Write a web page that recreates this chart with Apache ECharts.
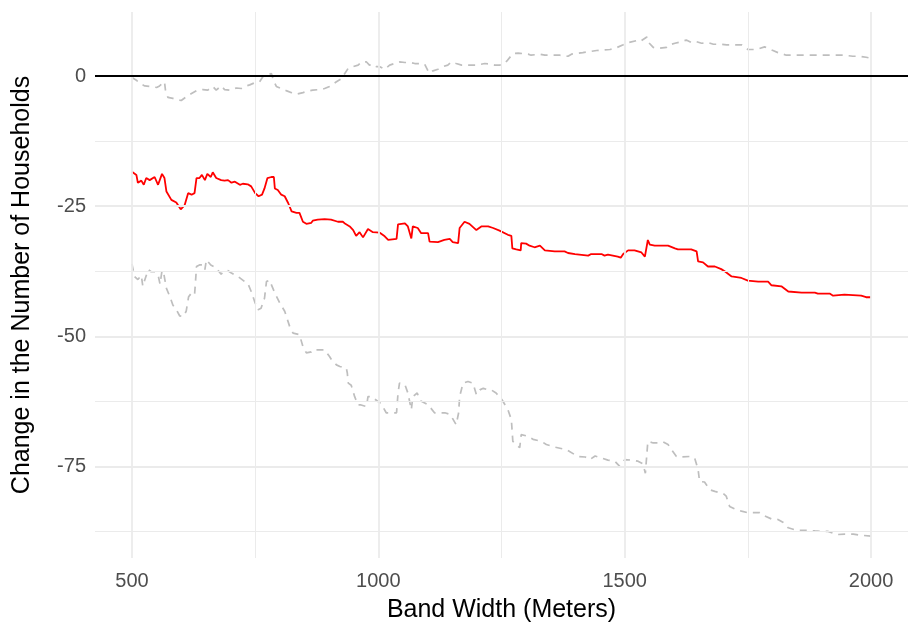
<!DOCTYPE html>
<html>
<head>
<meta charset="utf-8">
<title>Change in the Number of Households by Band Width</title>
<script src="https://cdn.jsdelivr.net/npm/echarts@6/dist/echarts.min.js"></script>
<style>
  html, body { margin: 0; padding: 0; background: #ffffff; }
  #chart { width: 910px; height: 629px; }
</style>
</head>
<body>
<div id="chart"></div>
<script>
// Point estimate of the change in households, by band width (meters)
const estimate = [
  [500,-18.4],[509,-19.0],[512,-20.5],[519,-20.1],[524,-20.9],[529,-19.6],[536,-20.0],[546,-19.4],[553,-20.9],[561,-18.8],
  [566,-19.6],[570,-22.2],[580,-23.8],[590,-24.3],[599,-25.6],[607,-24.8],[614,-22.5],[621,-22.8],[627,-22.5],[631,-19.6],
  [637,-19.6],[642,-19.0],[648,-20.0],[653,-18.8],[660,-19.4],[664,-18.5],[671,-19.6],[681,-20.0],[688,-20.1],[695,-20.0],
  [702,-20.5],[709,-20.3],[719,-20.9],[725,-20.7],[735,-20.8],[742,-21.2],[750,-22.5],[757,-23.1],[764,-22.8],[769,-21.6],
  [775,-19.6],[783,-19.4],[788,-19.4],[790,-21.6],[796,-21.9],[803,-22.8],[810,-23.1],[817,-24.4],[824,-26.0],[834,-26.3],
  [840,-26.3],[847,-28.0],[854,-28.4],[864,-28.2],[867,-27.8],[877,-27.6],[891,-27.5],[904,-27.6],[918,-28.0],[928,-28.0],
  [933,-28.4],[942,-28.9],[949,-29.6],[955,-30.7],[962,-30.0],[969,-31.0],[979,-29.4],[989,-30.0],[1003,-30.1],[1013,-30.8],
  [1020,-31.5],[1037,-31.3],[1040,-28.5],[1054,-28.3],[1060,-28.9],[1067,-31.2],[1070,-28.9],[1080,-29.2],[1087,-30.2],[1101,-30.2],
  [1104,-31.8],[1121,-31.9],[1134,-31.5],[1145,-31.3],[1151,-31.9],[1162,-32.1],[1165,-29.2],[1175,-28.0],[1185,-28.4],[1199,-29.6],
  [1209,-28.9],[1223,-28.9],[1233,-29.2],[1236,-29.0],[1246,-29.7],[1250,-29.9],[1263,-30.5],[1270,-30.7],[1272,-33.1],[1280,-33.3],
  [1289,-33.5],[1290,-32.1],[1300,-32.2],[1307,-32.6],[1317,-32.9],[1328,-32.6],[1338,-33.5],[1358,-33.7],[1378,-33.7],[1385,-34.0],
  [1399,-34.2],[1426,-34.5],[1432,-34.2],[1453,-34.2],[1459,-34.5],[1466,-34.3],[1486,-34.7],[1492,-34.9],[1497,-34.2],[1507,-33.5],
  [1520,-33.5],[1534,-33.9],[1541,-34.7],[1544,-34.7],[1547,-31.5],[1551,-32.4],[1561,-32.6],[1574,-32.6],[1588,-32.6],[1602,-33.1],
  [1608,-33.3],[1618,-33.3],[1635,-33.3],[1646,-33.7],[1649,-35.6],[1659,-35.8],[1669,-36.6],[1683,-36.6],[1696,-37.1],[1703,-37.5],
  [1717,-38.5],[1737,-38.8],[1750,-39.3],[1771,-39.5],[1791,-39.5],[1798,-40.2],[1818,-40.4],[1832,-41.4],[1859,-41.6],[1886,-41.6],
  [1892,-41.8],[1916,-41.8],[1923,-42.2],[1946,-42.0],[1980,-42.2],[1990,-42.5],[2000,-42.5]
];

// Upper confidence bound
const upperBound = [
  [500,-0.3],[509,-0.8],[515,-1.4],[526,-1.9],[536,-2.0],[550,-2.2],[556,-1.9],[566,-1.1],[568,-2.7],[573,-4.1],
  [583,-4.3],[593,-4.6],[600,-4.7],[610,-4.0],[620,-3.4],[631,-2.8],[644,-2.6],[654,-2.7],[664,-2.0],[671,-2.7],
  [681,-1.9],[688,-2.6],[698,-2.7],[712,-2.3],[722,-2.4],[732,-1.9],[739,-1.7],[749,-1.3],[759,-1.1],[766,-0.1],
  [776,0.2],[783,0.5],[787,-0.8],[793,-2.0],[803,-2.4],[813,-2.8],[824,-3.2],[834,-3.5],[847,-3.2],[857,-2.9],
  [867,-2.7],[881,-2.6],[891,-2.4],[901,-2.0],[915,-1.1],[925,-0.5],[932,0.5],[939,1.5],[949,1.8],[959,2.1],
  [966,2.7],[976,2.7],[982,2.1],[989,2.3],[996,1.8],[1003,1.8],[1013,1.3],[1023,2.1],[1033,2.4],[1043,2.7],
  [1054,2.6],[1064,2.6],[1074,2.4],[1084,2.4],[1094,2.3],[1103,0.6],[1111,1.0],[1121,1.3],[1131,1.8],[1141,2.1],
  [1148,2.7],[1158,2.4],[1169,2.1],[1182,2.1],[1199,2.1],[1216,2.4],[1226,2.3],[1236,2.1],[1246,2.1],[1256,2.4],
  [1261,2.9],[1273,4.3],[1284,4.4],[1304,4.2],[1310,4.0],[1328,4.2],[1338,4.0],[1355,4.0],[1368,4.0],[1385,3.8],
  [1392,4.2],[1415,4.5],[1443,4.9],[1470,5.1],[1480,5.3],[1497,6.0],[1503,6.3],[1524,6.8],[1531,6.6],[1545,7.5],
  [1547,6.6],[1558,5.5],[1568,5.3],[1585,5.5],[1591,6.0],[1602,6.3],[1615,6.6],[1625,6.9],[1636,6.4],[1646,6.6],
  [1656,6.3],[1670,6.4],[1680,6.1],[1693,6.1],[1707,6.0],[1727,6.0],[1737,6.0],[1750,5.1],[1767,5.1],[1784,5.6],
  [1791,5.3],[1801,4.9],[1811,4.5],[1828,4.0],[1849,4.0],[1869,4.0],[1890,4.0],[1910,4.0],[1930,4.0],[1944,4.0],
  [1963,3.8],[1977,3.8],[1990,3.6],[2000,3.4]
];

// Lower confidence bound
const lowerBound = [
  [500,-36.1],[505,-38.5],[512,-39.1],[519,-38.3],[522,-40.4],[527,-38.9],[533,-37.2],[539,-37.6],[546,-37.6],[553,-38.2],
  [557,-40.0],[561,-37.4],[565,-38.2],[570,-40.8],[577,-42.4],[583,-44.0],[590,-44.9],[597,-46.1],[604,-46.2],[610,-45.2],
  [615,-42.4],[620,-41.8],[627,-42.1],[629,-39.5],[631,-36.6],[637,-36.3],[644,-36.3],[648,-37.2],[651,-35.3],[654,-35.0],
  [660,-36.3],[666,-36.6],[671,-36.9],[681,-38.1],[685,-37.6],[695,-37.4],[701,-37.8],[715,-38.5],[729,-39.5],[735,-39.8],
  [742,-41.4],[750,-43.6],[756,-44.9],[762,-44.6],[769,-42.7],[773,-39.5],[779,-39.2],[783,-39.5],[790,-41.7],[800,-43.6],
  [810,-45.2],[820,-48.1],[827,-49.4],[840,-49.7],[844,-50.0],[847,-52.0],[854,-53.2],[864,-53.0],[867,-52.6],[881,-52.6],
  [891,-52.6],[901,-53.9],[905,-54.5],[915,-55.5],[922,-55.8],[935,-56.1],[937,-57.0],[939,-59.0],[945,-59.4],[952,-61.6],
  [959,-63.2],[965,-63.2],[976,-63.5],[979,-61.6],[986,-61.6],[996,-62.3],[1006,-63.0],[1016,-64.7],[1026,-64.7],[1037,-64.7],
  [1040,-60.9],[1043,-59.0],[1054,-59.3],[1060,-60.9],[1067,-64.1],[1070,-61.6],[1079,-60.9],[1084,-62.3],[1098,-63.0],[1104,-63.5],
  [1114,-64.7],[1124,-64.7],[1135,-64.7],[1145,-65.0],[1152,-66.0],[1158,-67.0],[1163,-64.7],[1165,-61.6],[1172,-59.0],[1182,-58.7],
  [1192,-59.0],[1199,-61.2],[1206,-60.3],[1213,-60.0],[1223,-60.3],[1229,-60.3],[1239,-60.9],[1251,-62.2],[1263,-64.1],[1270,-66.0],
  [1273,-70.2],[1287,-71.4],[1290,-68.9],[1304,-69.2],[1314,-69.8],[1331,-70.2],[1341,-70.8],[1358,-71.3],[1382,-71.8],[1405,-73.1],
  [1420,-73.2],[1429,-73.7],[1440,-73.0],[1453,-73.4],[1466,-73.8],[1480,-74.0],[1490,-75.0],[1500,-73.7],[1514,-73.8],[1527,-74.0],
  [1537,-74.5],[1542,-76.3],[1546,-76.6],[1547,-70.2],[1558,-70.5],[1568,-70.5],[1578,-70.3],[1588,-70.8],[1595,-71.8],[1605,-73.1],
  [1615,-73.2],[1632,-73.1],[1642,-73.4],[1649,-75.6],[1652,-77.9],[1662,-78.0],[1673,-79.5],[1683,-79.8],[1700,-80.2],[1706,-80.7],
  [1713,-82.7],[1724,-83.2],[1737,-83.6],[1750,-83.9],[1764,-83.9],[1774,-83.9],[1784,-84.5],[1798,-85.1],[1811,-85.2],[1822,-85.8],
  [1832,-86.8],[1849,-87.3],[1872,-87.3],[1886,-87.4],[1903,-87.5],[1913,-87.5],[1930,-88.1],[1947,-88.0],[1964,-88.0],[1977,-88.2],
  [2000,-88.4]
];

// Axis breaks
const xMajorTicks = [500, 1000, 1500, 2000];
const xMinorTicks = [750, 1250, 1750];
const yMajorTicks = [-75, -50, -25, 0];
const yMinorTicks = [-87.5, -62.5, -37.5, -12.5, 12.5];
const referenceLevel = 0;

const FONT = '"Liberation Sans", Arial, Helvetica, sans-serif';
const GRID_COLOR = '#ebebeb';

const gridLines = [];
xMinorTicks.forEach(v => gridLines.push({ xAxis: v, lineStyle: { color: GRID_COLOR, width: 1, type: 'solid' } }));
yMinorTicks.forEach(v => gridLines.push({ yAxis: v, lineStyle: { color: GRID_COLOR, width: 1, type: 'solid' } }));
xMajorTicks.forEach(v => gridLines.push({ xAxis: v, lineStyle: { color: GRID_COLOR, width: 1.8, type: 'solid' } }));
yMajorTicks.forEach(v => gridLines.push({ yAxis: v, lineStyle: { color: GRID_COLOR, width: 1.8, type: 'solid' } }));

const chart = echarts.init(document.getElementById('chart'), null, { renderer: 'canvas' });

chart.setOption({
  animation: false,
  backgroundColor: '#ffffff',
  grid: {
    left: 95, right: 2, top: 12, bottom: 71,
    containLabel: false,
    outerBoundsMode: 'none'
  },
  xAxis: {
    type: 'value',
    min: 425,
    max: 2075,
    name: 'Band Width (Meters)',
    nameLocation: 'middle',
    nameGap: 40,
    nameTextStyle: { fontFamily: FONT, fontSize: 25, color: '#000000' },
    axisLine: { show: false },
    axisTick: { show: false },
    splitLine: { show: false },
    axisLabel: {
      customValues: xMajorTicks,
      formatter: v => String(v),
      fontFamily: FONT,
      fontSize: 20,
      color: '#4d4d4d',
      margin: 13
    }
  },
  yAxis: {
    type: 'value',
    min: -92.6,
    max: 12.3,
    name: 'Change in the Number of Households',
    nameLocation: 'middle',
    nameRotate: 90,
    nameGap: 60,
    nameTextStyle: { fontFamily: FONT, fontSize: 25, color: '#000000' },
    axisLine: { show: false },
    axisTick: { show: false },
    splitLine: { show: false },
    axisLabel: {
      customValues: yMajorTicks,
      formatter: v => String(v),
      fontFamily: FONT,
      fontSize: 20,
      color: '#4d4d4d',
      margin: 9
    }
  },
  series: [
    {
      name: 'grid',
      type: 'line',
      data: [],
      z: 0,
      silent: true,
      markLine: {
        silent: true,
        symbol: 'none',
        label: { show: false },
        animation: false,
        data: gridLines
      }
    },
    {
      name: 'zero',
      type: 'line',
      data: [],
      z: 1,
      silent: true,
      markLine: {
        silent: true,
        symbol: 'none',
        label: { show: false },
        animation: false,
        data: [{ yAxis: referenceLevel, lineStyle: { color: '#000000', width: 2, type: 'solid' } }]
      }
    },
    {
      name: 'Upper',
      type: 'line',
      data: upperBound,
      z: 3,
      showSymbol: false,
      smooth: false,
      lineStyle: { color: '#bebebe', width: 1.7, type: [7, 6] }
    },
    {
      name: 'Lower',
      type: 'line',
      data: lowerBound,
      z: 3,
      showSymbol: false,
      smooth: false,
      lineStyle: { color: '#bebebe', width: 1.7, type: [7, 6] }
    },
    {
      name: 'Estimate',
      type: 'line',
      data: estimate,
      z: 4,
      showSymbol: false,
      smooth: false,
      lineStyle: { color: '#ff0000', width: 1.8 }
    }
  ]
});
</script>
</body>
</html>
